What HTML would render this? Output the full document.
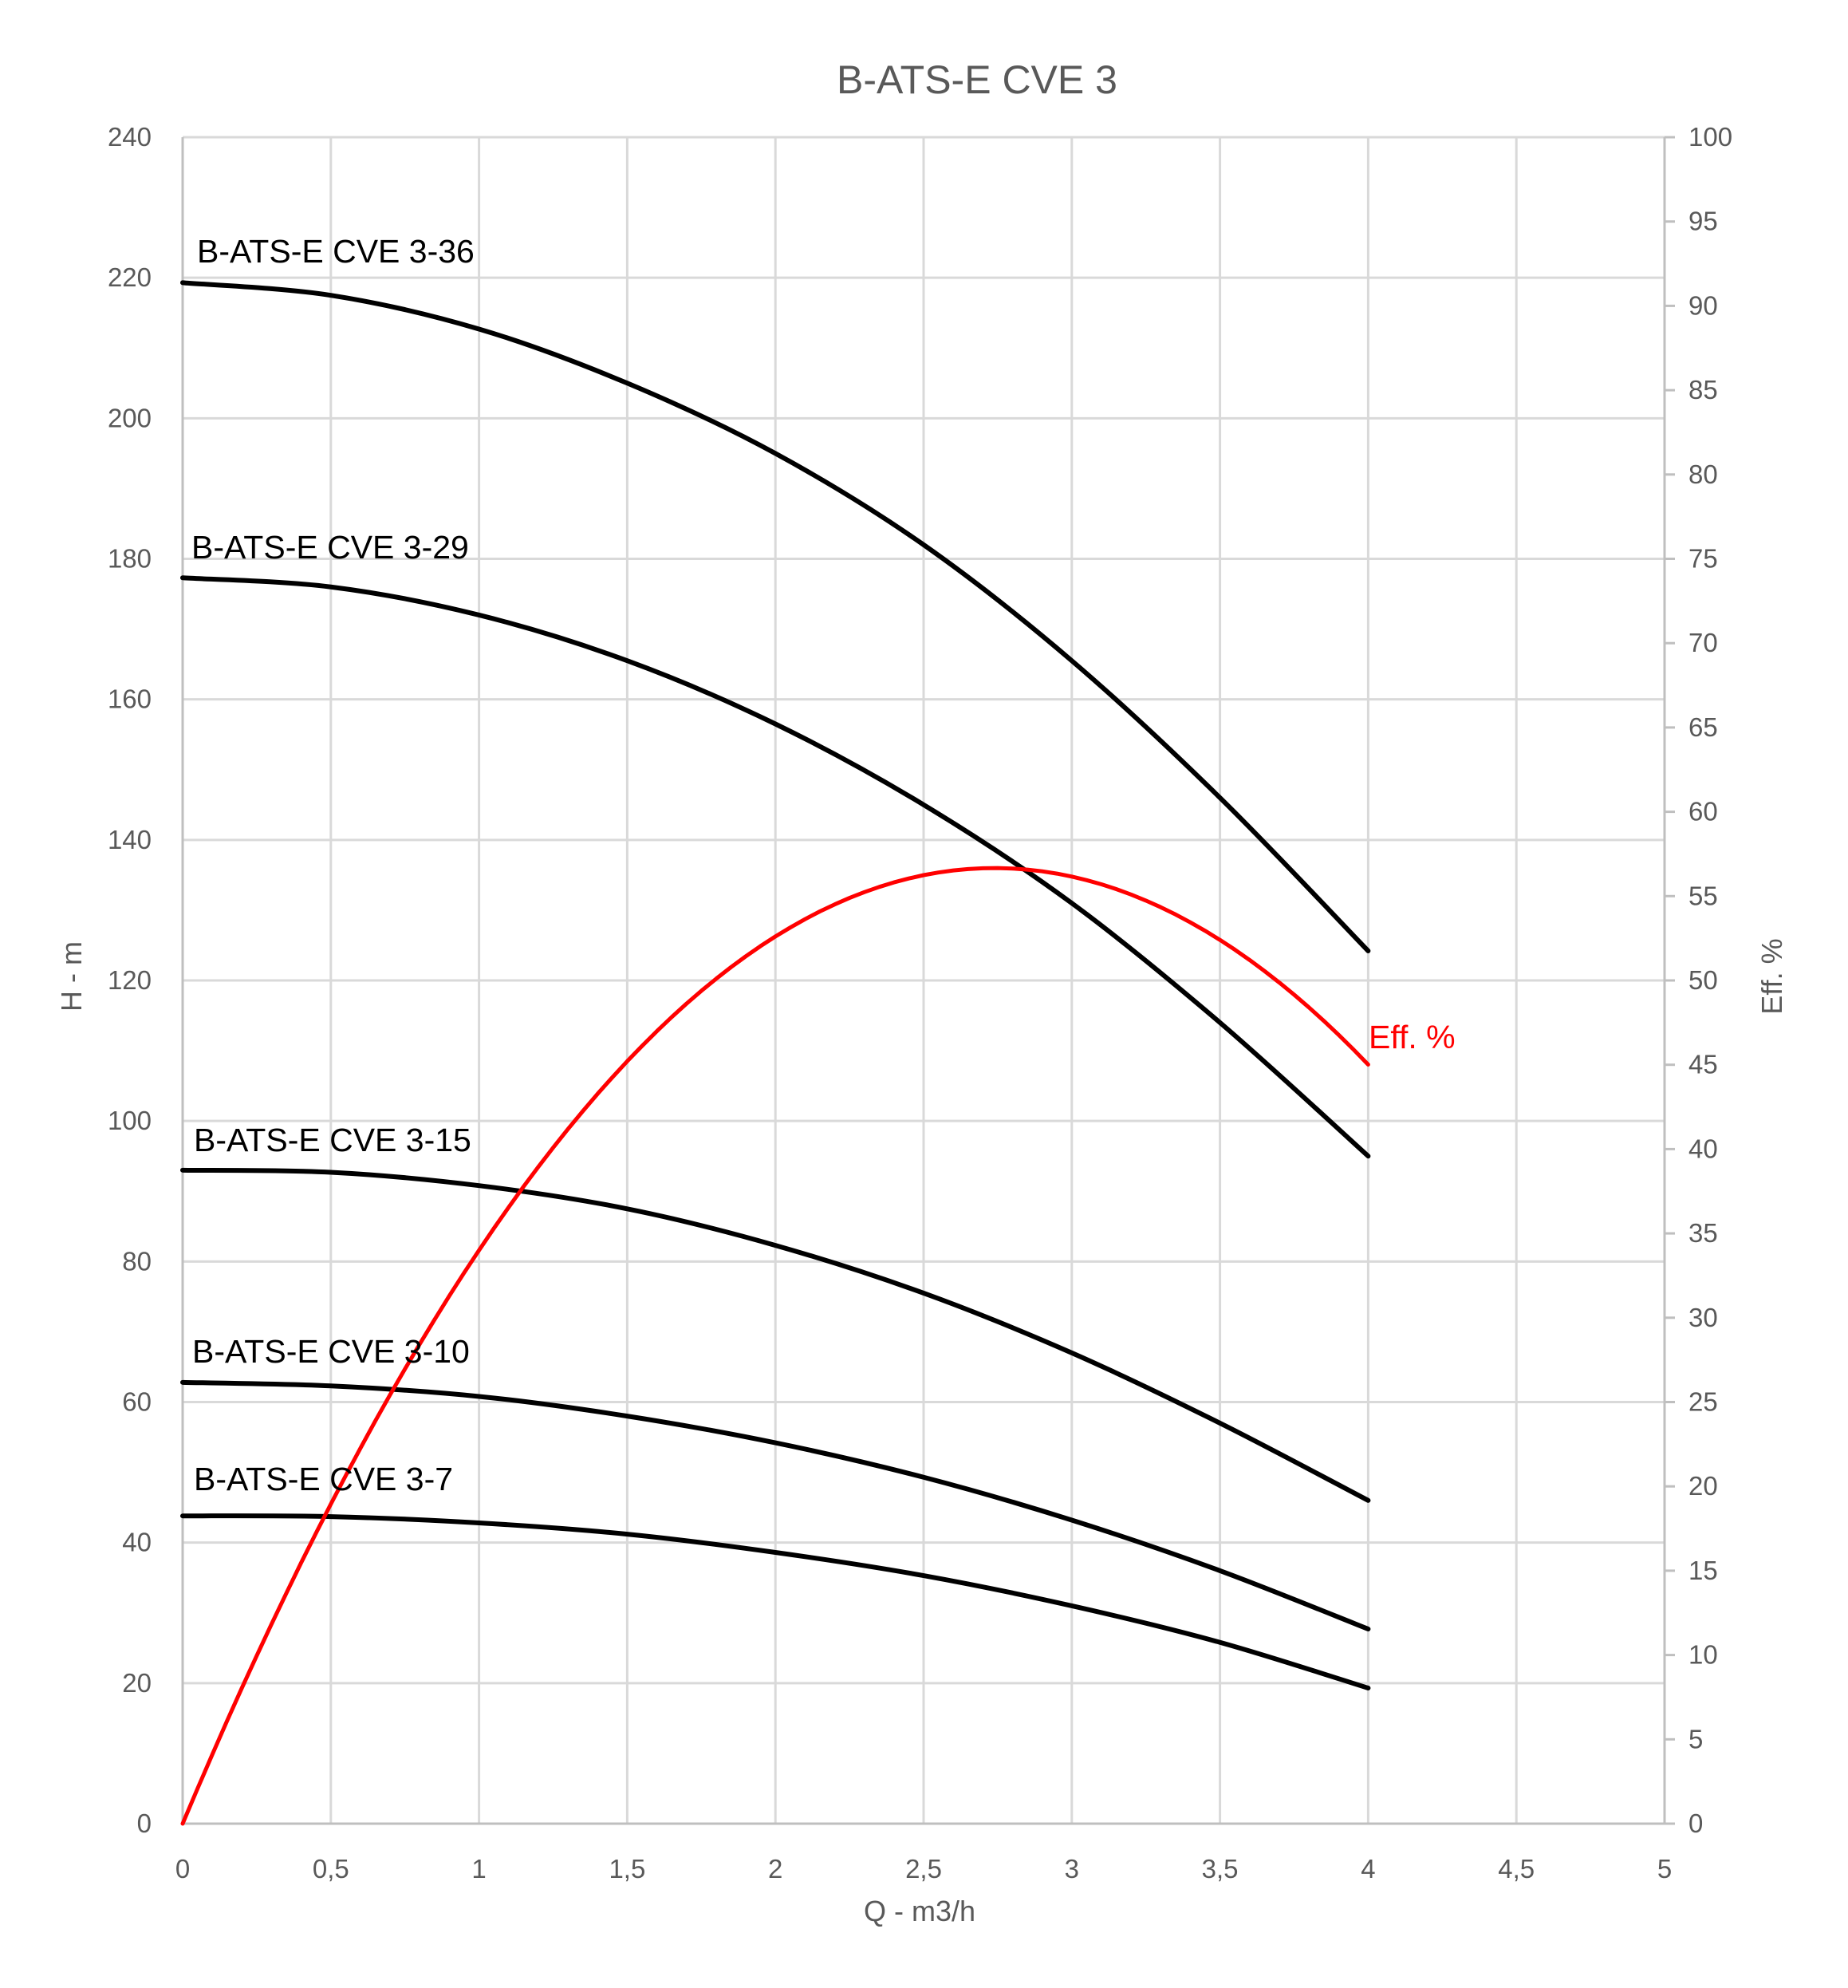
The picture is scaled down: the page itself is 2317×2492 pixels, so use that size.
<!DOCTYPE html>
<html><head><meta charset="utf-8"><style>
html,body{margin:0;padding:0;background:#fff}
svg{display:block}
text{font-family:"Liberation Sans",sans-serif}
</style></head><body>
<svg id="s" width="2317" height="2492" viewBox="0 0 2317 2492" xmlns="http://www.w3.org/2000/svg">
<rect width="2317" height="2492" fill="#fff"/>
<g id="grid" stroke="#d9d9d9" stroke-width="3"></g>
<g id="axes" stroke="#bfbfbf" stroke-width="3"></g>
<g id="lab" fill="#595959" font-size="33"></g>
<text x="1225" y="117" font-size="50" fill="#595959" text-anchor="middle">B-ATS-E CVE 3</text>
<text x="1153" y="2408" font-size="36" fill="#595959" text-anchor="middle">Q - m3/h</text>
<text transform="translate(102,1224) rotate(-90)" font-size="36" fill="#595959" text-anchor="middle">H - m</text>
<text transform="translate(2234,1224) rotate(-90)" font-size="36" fill="#595959" text-anchor="middle">Eff. %</text>
<g id="curves" fill="none" stroke-linecap="round" stroke-linejoin="round"></g>
<g font-size="41" fill="#000">
<text x="247" y="329">B-ATS-E CVE 3-36</text>
<text x="240" y="700">B-ATS-E CVE 3-29</text>
<text x="243" y="1443">B-ATS-E CVE 3-15</text>
<text x="241" y="1708">B-ATS-E CVE 3-10</text>
<text x="243" y="1868">B-ATS-E CVE 3-7</text>
<text x="1716" y="1314" fill="#ff0000">Eff. %</text>
</g>
</svg>
<script>
var NS="http://www.w3.org/2000/svg";
var X0=229,X1=2087,Y0=2286,Y1=172;
function X(q){return X0+(X1-X0)*q/5}
function YH(h){return Y0-(Y0-Y1)*h/240}
function YE(e){return Y0-(Y0-Y1)*e/100}
function el(p,n,a,t){var e=document.createElementNS(NS,n);for(var k in a)e.setAttribute(k,a[k]);if(t!==undefined)e.textContent=t;document.getElementById(p).appendChild(e);return e}
for(var i=1;i<=10;i++){var x=X(i*0.5);if(i<10)el("grid","line",{x1:x,y1:Y1,x2:x,y2:Y0});}
for(var h=20;h<=240;h+=20){el("grid","line",{x1:X0,y1:YH(h),x2:X1,y2:YH(h)});}
el("axes","line",{x1:X0,y1:Y1,x2:X0,y2:Y0});
el("axes","line",{x1:X1,y1:Y1,x2:X1,y2:Y0});
el("axes","line",{x1:X0,y1:Y0,x2:X1+13,y2:Y0});
for(var e=0;e<=100;e+=5){var y=YE(e);el("axes","line",{x1:X1,y1:y,x2:X1+13,y2:y});el("lab","text",{x:X1+30,y:y+11},""+e);}
for(var h=0;h<=240;h+=20){el("lab","text",{x:190,y:YH(h)+11,"text-anchor":"end"},""+h);}
var xl=["0","0,5","1","1,5","2","2,5","3","3,5","4","4,5","5"];
for(var i=0;i<=10;i++){el("lab","text",{x:X(i*0.5),y:2354,"text-anchor":"middle"},xl[i]);}
var qs=[0,0.5,1,1.5,2,2.5,3,3.5,4];
var series=[
[219.3,217.5,212.7,205,195,182,165.5,146,124.2],
[177.3,176,172,165.5,156.5,145,131,114,95],
[93,92.7,90.8,87.5,82.3,75.5,67,57,46],
[62.8,62.3,60.8,58,54.2,49.3,43.2,36,27.7],
[43.8,43.7,42.8,41.2,38.6,35.3,31,25.8,19.3]];
function path(pts){var d="M"+pts[0][0]+","+pts[0][1];
for(var i=0;i<pts.length-1;i++){var p0=pts[i-1]||pts[i],p1=pts[i],p2=pts[i+1],p3=pts[i+2]||p2;
var c1=[p1[0]+(p2[0]-p0[0])/6,p1[1]+(p2[1]-p0[1])/6],c2=[p2[0]-(p3[0]-p1[0])/6,p2[1]-(p3[1]-p1[1])/6];
d+=" C"+c1+" "+c2+" "+p2;}return d}
series.forEach(function(s){el("curves","path",{d:path(qs.map(function(q,i){return[X(q),YH(s[i])]})),stroke:"#000","stroke-width":6});});
var pts=[];for(var q=0;q<=4.0001;q+=0.05){var ev=41.82*q-7.875*q*q+0.0583*q*q*q;pts.push(X(q).toFixed(1)+","+YE(ev).toFixed(1));}
el("curves","polyline",{points:pts.join(" "),stroke:"#ff0000","stroke-width":5});
</script>
</body></html>
